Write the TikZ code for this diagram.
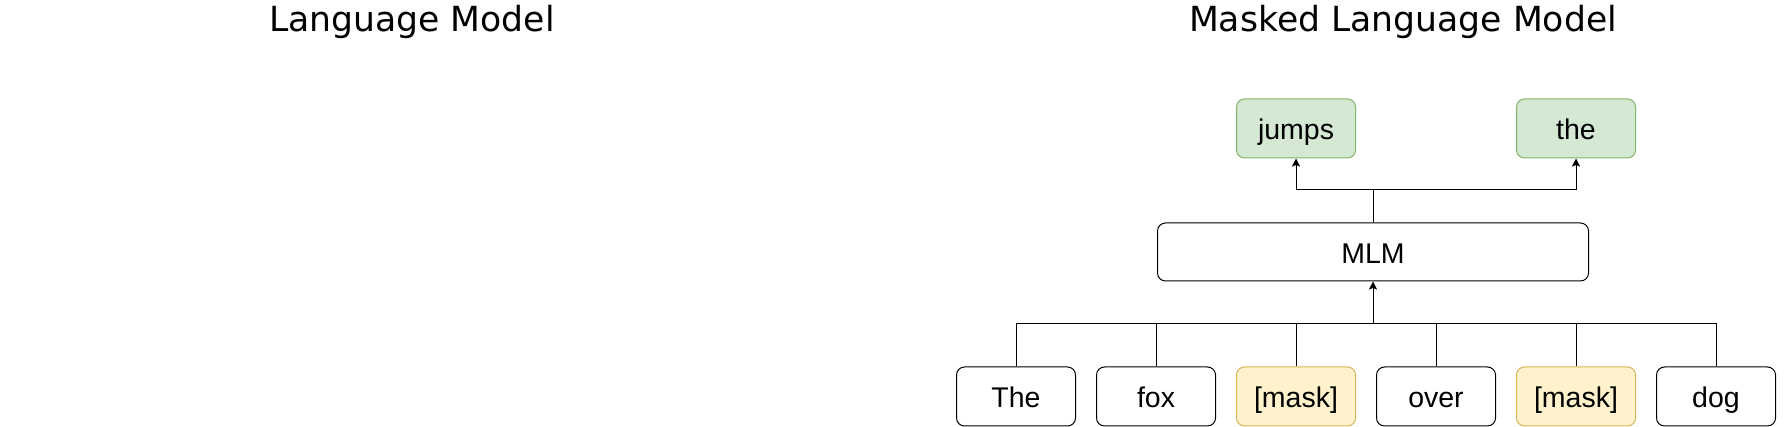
\documentclass[tikz,border=0pt]{standalone}
\usepackage{fontspec}
\setmainfont{Liberation Sans}
\newfontfamily\titlefont{DejaVu Sans}
\usetikzlibrary{arrows.meta}
\definecolor{greenfill}{HTML}{D5E8D4}
\definecolor{greenline}{HTML}{82B366}
\definecolor{yellowfill}{HTML}{FFF2CC}
\definecolor{yellowline}{HTML}{D6B656}
\tikzset{
  tok/.style={draw=black, fill=white, rounded corners=8pt, line width=1pt, minimum width=119pt, minimum height=59pt, inner sep=0pt, text height=23pt, text depth=0pt, font=\fontsize{28.5}{34}\selectfont},
  masktok/.style={tok, draw=yellowline, fill=yellowfill},
  outtok/.style={tok, draw=greenline, fill=greenfill},
  model/.style={tok, minimum width=431pt, minimum height=58pt},
  title/.style={font=\titlefont\fontsize{34.6}{40}\selectfont, inner sep=0pt},
  conn/.style={line width=1pt, draw=black},
  arr/.style={conn, -{Stealth[length=8pt,width=8pt,inset=1.5pt]}}
}
\begin{document}
\begin{tikzpicture}[x=1pt,y=-1pt]
\useasboundingbox (0,0) rectangle (1786,427);
\node[title] (t1) at (412,22) {Language Model};
\node[title] (t2) at (1403,22) {Masked Language Model};

\node[tok] (w1) at (1016,396.5) {The};
\node[tok] (w2) at (1156,396.5) {fox};
\node[masktok] (w3) at (1296,396.5) {[mask]};
\node[tok] (w4) at (1436,396.5) {over};
\node[masktok] (w5) at (1576,396.5) {[mask]};
\node[tok] (w6) at (1716,396.5) {dog};

\node[model] (mlm) at (1373,252) {MLM};

\node[outtok] (o1) at (1296,128.5) {jumps};
\node[outtok] (o2) at (1576,128.5) {the};

\coordinate (bus) at (1373,324);
\coordinate (top) at (1373,190);

\foreach \n in {w1,w2,w3,w4,w5,w6} {
  \draw[conn] (\n.north) |- (bus);
}
\draw[arr] (bus) -- (mlm.south);
\draw[conn] (mlm.north) -- (top);
\draw[arr] (top) -| (o1.south);
\draw[arr] (top) -| (o2.south);
\end{tikzpicture}
\end{document}
